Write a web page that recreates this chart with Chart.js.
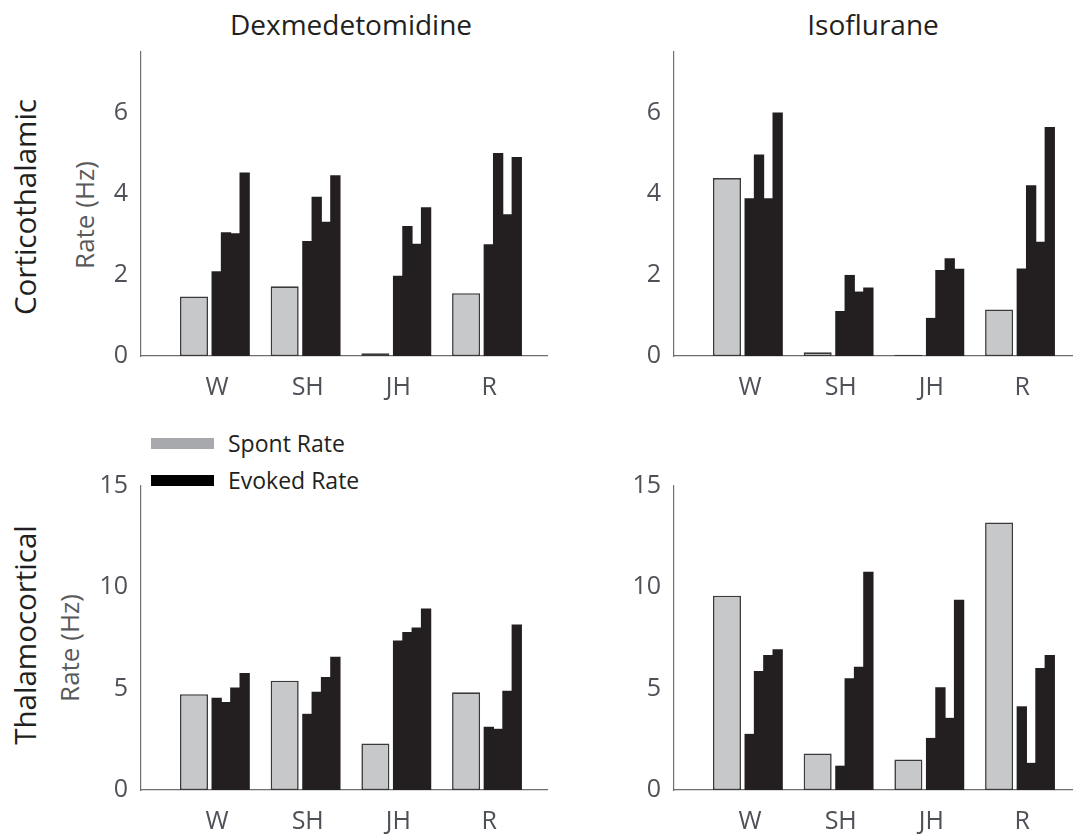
<!DOCTYPE html>
<html>
<head>
<meta charset="utf-8">
<title>Spontaneous and evoked rates</title>
<script src="https://cdn.jsdelivr.net/npm/chart.js@4.4.1/dist/chart.umd.min.js"></script>
<style>
  html, body { margin: 0; padding: 0; background: #fff; overflow: hidden; }
  #figure { position: relative; width: 1073px; height: 835px; overflow: hidden; font-family: 'Open Sans', sans-serif; }
  #figure canvas { position: absolute; }
  .col-title { position: absolute; top: 10px; font-size: 28px; line-height: 28px; color: #231f20; transform: translateX(-50%); white-space: nowrap; }
  .row-title, .y-title { position: absolute; white-space: nowrap; line-height: 1; transform: translate(-50%, -50%) rotate(-90deg); }
  .row-title { font-size: 29.5px; color: #231f20; }
  .y-title { font-size: 26px; color: #58595b; }
  .legend-item { position: absolute; left: 151px; height: 23px; }
  .legend-item span.swatch { position: absolute; left: 0; top: 4px; width: 63px; height: 11px; }
  .legend-item span.text { position: absolute; left: 77px; top: -2px; font-size: 23px; line-height: 23px; color: #231f20; white-space: nowrap; }
</style>
</head>
<body>
<div id="figure">
  <div class="col-title" style="left:351px">Dexmedetomidine</div>
  <div class="col-title" style="left:873px">Isoflurane</div>

  <div class="row-title" style="left:25px; top:207px">Corticothalamic</div>
  <div class="row-title" style="left:25px; top:635px">Thalamocortical</div>
  <div class="y-title" style="left:84px; top:215px">Rate (Hz)</div>
  <div class="y-title" style="left:69px; top:648px">Rate (Hz)</div>

  <div class="legend-item" style="top:434px">
    <span class="swatch" style="background:#a7a9ac"></span><span class="text">Spont Rate</span>
  </div>
  <div class="legend-item" style="top:471px">
    <span class="swatch" style="background:#000"></span><span class="text">Evoked Rate</span>
  </div>

  <canvas id="dexCortico" width="467" height="377" style="left:81px; top:24px"></canvas>
  <canvas id="isoCortico" width="467" height="377" style="left:614px; top:24px"></canvas>
  <canvas id="dexThalamo" width="467" height="377" style="left:81px; top:458px"></canvas>
  <canvas id="isoThalamo" width="467" height="377" style="left:614px; top:458px"></canvas>
</div>

<script>
'use strict';

// state groups along the x axis
const groups = ['W', 'SH', 'JH', 'R'];

// y tick labels for each row
const corticoTicks = [0, 2, 4, 6];
const thalamoTicks = [0, 5, 10, 15];

// dexmedetomidine, corticothalamic
const dexCorticoSpont = [1.47, 1.72, 0.07, 1.55];
const dexCorticoEvoked = [
    [2.09, 3.05, 3.03, 4.53],
    [2.84, 3.93, 3.31, 4.46],
    [1.98, 3.21, 2.77, 3.67],
    [2.76, 5.01, 3.50, 4.91]
];

// isoflurane, corticothalamic
const isoCorticoSpont = [4.39, 0.09, 0.03, 1.15];
const isoCorticoEvoked = [
    [3.89, 4.97, 3.89, 6.01],
    [1.11, 2.00, 1.59, 1.69],
    [0.94, 2.12, 2.41, 2.15],
    [2.16, 4.21, 2.82, 5.65]
];

// dexmedetomidine, thalamocortical
const dexThalamoSpont = [4.73, 5.39, 2.30, 4.82];
const dexThalamoEvoked = [
    [4.55, 4.34, 5.06, 5.77],
    [3.76, 4.85, 5.57, 6.57],
    [7.38, 7.80, 8.02, 8.96],
    [3.12, 3.02, 4.90, 8.17]
];

// isoflurane, thalamocortical
const isoThalamoSpont = [9.59, 1.80, 1.51, 13.2];
const isoThalamoEvoked = [
    [2.77, 5.87, 6.66, 6.95],
    [1.20, 5.51, 6.08, 10.77],
    [2.57, 5.07, 3.56, 9.39],
    [4.13, 1.34, 6.02, 6.66]
];

// bar layout inside a group, in x-axis units (one unit per group)
const SPONT_SHIFT = -0.254;
const SPONT_WIDTH = 0.309;
const EVOKED_START = -0.055;
const EVOKED_WIDTH = 0.1028;
const X_MIN = 0.162;
const X_MAX = 4.649;

const AXIS_COLOR = '#6d6e71';
const TICK_COLOR = '#4f5159';
const tickFont = { family: "'Open Sans', sans-serif", size: 25 };

function buildPanel(canvasId, spont, evoked, yTicks, yMax) {
    const spontPoints = spont.map((v, i) => ({ x: i + 1 + SPONT_SHIFT, y: v }));
    const evokedPoints = [];

    evoked.forEach((row, i) => {
        row.forEach((v, k) => {
            evokedPoints.push({ x: i + 1 + EVOKED_START + EVOKED_WIDTH * (k + 0.5), y: v });
        });
    });

    const chart = new Chart(document.getElementById(canvasId), {
        type: 'bar',
        data: {
            datasets: [{
                label: 'Spont Rate',
                data: spontPoints,
                backgroundColor: '#c7c8ca',
                borderColor: '#3a3a3c',
                borderWidth: 1.6,
                borderSkipped: false,
                grouped: false,
                barPercentage: 10,
                categoryPercentage: 1
            }, {
                label: 'Evoked Rate',
                data: evokedPoints,
                backgroundColor: '#231f20',
                borderWidth: 0,
                grouped: false,
                barPercentage: 10,
                categoryPercentage: 1
            }]
        },
        options: {
            responsive: false,
            animation: false,
            layout: { padding: 0 },
            plugins: {
                legend: { display: false },
                tooltip: { enabled: false }
            },
            scales: {
                x: {
                    type: 'linear',
                    offset: false,
                    min: X_MIN,
                    max: X_MAX,
                    afterBuildTicks: axis => {
                        axis.ticks = groups.map((g, i) => ({ value: i + 1 }));
                    },
                    afterFit: axis => { axis.height = 45 },
                    grid: { display: false, drawTicks: false },
                    border: { display: true, color: AXIS_COLOR, width: 1.2 },
                    ticks: {
                        callback: (value, index) => groups[index],
                        font: tickFont,
                        color: TICK_COLOR,
                        padding: 17,
                        maxRotation: 0,
                        autoSkip: false
                    }
                },
                y: {
                    min: 0,
                    max: yMax,
                    afterBuildTicks: axis => {
                        axis.ticks = yTicks.map(v => ({ value: v }));
                    },
                    afterFit: axis => { axis.width = 60 },
                    grid: { display: false, drawTicks: false },
                    border: { display: true, color: AXIS_COLOR, width: 1.2 },
                    ticks: {
                        font: tickFont,
                        color: TICK_COLOR,
                        padding: 13
                    }
                }
            }
        }
    });

    // bar widths are set in axis units, so convert them once the scale is laid out;
    // the evoked bars get an extra pixel so neighbours close up without seams
    const xScale = chart.scales.x;
    const pxPerUnit = Math.abs(xScale.getPixelForValue(1) - xScale.getPixelForValue(0));
    chart.data.datasets[0].maxBarThickness = SPONT_WIDTH * pxPerUnit;
    chart.data.datasets[1].maxBarThickness = EVOKED_WIDTH * pxPerUnit + 1;
    chart.update();

    return chart;
}

buildPanel('dexCortico', dexCorticoSpont, dexCorticoEvoked, corticoTicks, 7.5);
buildPanel('isoCortico', isoCorticoSpont, isoCorticoEvoked, corticoTicks, 7.5);
buildPanel('dexThalamo', dexThalamoSpont, dexThalamoEvoked, thalamoTicks, 15);
buildPanel('isoThalamo', isoThalamoSpont, isoThalamoEvoked, thalamoTicks, 15);
</script>
</body>
</html>
